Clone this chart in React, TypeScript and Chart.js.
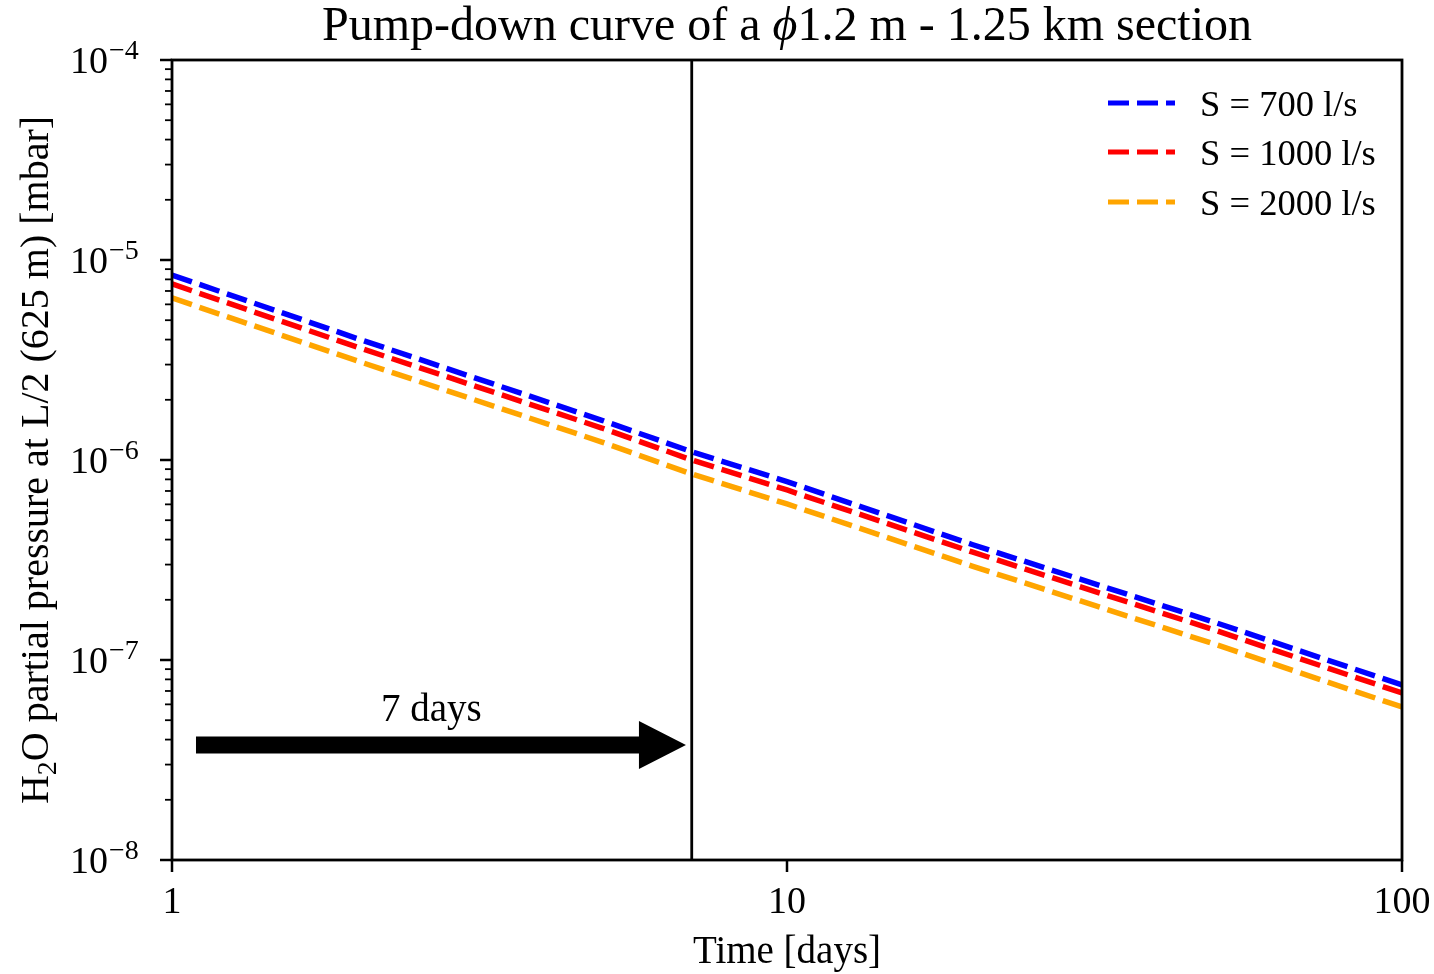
import { useEffect, useRef } from "react";
import { Chart, registerables } from "chart.js";

Chart.register(...registerables);

// ---- data ----
const days = [1, 2, 5, 7, 10, 20, 50, 100];
const p700 = [8.41e-6, 4.05e-6, 1.58e-6, 1.1e-6, 7.8e-7, 3.78e-7, 1.53e-7, 7.5e-8];
const p1000 = [7.59e-6, 3.67e-6, 1.445e-6, 1.0e-6, 7.08e-7, 3.47e-7, 1.4e-7, 6.84e-8];
const p2000 = [6.46e-6, 3.13e-6, 1.23e-6, 8.51e-7, 6.03e-7, 2.95e-7, 1.19e-7, 5.82e-8];
const seriesLabels = ["S = 700 l/s", "S = 1000 l/s", "S = 2000 l/s"];
const seriesColors = ["#0000ff", "#ff0000", "#ffa500"];
const xTickValues = [1, 10, 100];
const xTickLabels = ["1", "10", "100"];
const yDecades = [-8, -7, -6, -5, -4];
const markerDay = 7;
const arrowStartDay = 1.094;
const arrowEndDay = 6.85;
const arrowLevel = 3.76e-8;
const arrowText = "7 days";
const arrowTextDay = 2.64;
const arrowTextLevel = 4.95e-8;
const titleParts = ["Pump-down curve of a ", "ϕ", "1.2 m - 1.25 km section"];
const xTitle = "Time [days]";
const yTitleParts = ["H", "2", "O partial pressure at L/2 (625 m) [mbar]"];

const FONT = '"Liberation Serif", "DejaVu Serif", serif';

const decor = {
  id: "decor",
  afterDatasetsDraw(chart: any) {
    const { ctx, chartArea: a, scales } = chart;
    const x = scales.x;
    const y = scales.y;
    ctx.save();
    // vertical marker line
    const vx = x.getPixelForValue(markerDay);
    ctx.strokeStyle = "#000";
    ctx.lineWidth = 2.8;
    ctx.beginPath();
    ctx.moveTo(vx, a.top);
    ctx.lineTo(vx, a.bottom);
    ctx.stroke();
    // arrow
    const x0 = x.getPixelForValue(arrowStartDay);
    const tip = x.getPixelForValue(arrowEndDay);
    const yc = y.getPixelForValue(arrowLevel);
    const hs = tip - 47;
    const sw = 8.5;
    const hw = 24;
    ctx.fillStyle = "#000";
    ctx.beginPath();
    ctx.moveTo(x0, yc - sw);
    ctx.lineTo(hs, yc - sw);
    ctx.lineTo(hs, yc - hw);
    ctx.lineTo(tip, yc);
    ctx.lineTo(hs, yc + hw);
    ctx.lineTo(hs, yc + sw);
    ctx.lineTo(x0, yc + sw);
    ctx.closePath();
    ctx.fill();
    // arrow text
    ctx.font = `39px ${FONT}`;
    ctx.textAlign = "center";
    ctx.textBaseline = "alphabetic";
    ctx.fillText(arrowText, x.getPixelForValue(arrowTextDay), y.getPixelForValue(arrowTextLevel));
    ctx.restore();
  },
  afterDraw(chart: any) {
    const { ctx, chartArea: a, scales } = chart;
    const x = scales.x;
    const y = scales.y;
    ctx.save();
    ctx.fillStyle = "#000";
    ctx.strokeStyle = "#000";

    // frame
    ctx.lineWidth = 2.8;
    ctx.strokeRect(a.left, a.top, a.right - a.left, a.bottom - a.top);

    // y ticks
    ctx.lineWidth = 2.5;
    for (const k of yDecades) {
      const py = y.getPixelForValue(Math.pow(10, k));
      ctx.beginPath();
      ctx.moveTo(a.left - 12, py);
      ctx.lineTo(a.left, py);
      ctx.stroke();
    }
    ctx.lineWidth = 1.8;
    for (const k of yDecades.slice(0, -1)) {
      for (let m = 2; m <= 9; m++) {
        const py = y.getPixelForValue(m * Math.pow(10, k));
        ctx.beginPath();
        ctx.moveTo(a.left - 7, py);
        ctx.lineTo(a.left, py);
        ctx.stroke();
      }
    }
    // y tick labels
    for (const k of yDecades) {
      const py = y.getPixelForValue(Math.pow(10, k));
      ctx.font = `38px ${FONT}`;
      ctx.textAlign = "right";
      ctx.textBaseline = "alphabetic";
      ctx.fillText("10", a.left - 64, py + 13);
      ctx.font = `28px ${FONT}`;
      ctx.textAlign = "left";
      ctx.fillText(`\u2212${-k}`, a.left - 63, py - 1);
    }

    // x ticks
    ctx.lineWidth = 2.5;
    xTickValues.forEach((v, i) => {
      const px = x.getPixelForValue(v);
      ctx.beginPath();
      ctx.moveTo(px, a.bottom);
      ctx.lineTo(px, a.bottom + 12);
      ctx.stroke();
      ctx.font = `38px ${FONT}`;
      ctx.textAlign = "center";
      ctx.textBaseline = "alphabetic";
      ctx.fillText(xTickLabels[i], px, a.bottom + 53);
    });

    // x title
    ctx.font = `39px ${FONT}`;
    ctx.textAlign = "center";
    ctx.fillText(xTitle, (a.left + a.right) / 2, a.bottom + 103);

    // title (with italic phi)
    const tFont = `48px ${FONT}`;
    const tFontI = `italic 48px ${FONT}`;
    ctx.textAlign = "left";
    ctx.font = tFont;
    const w0 = ctx.measureText(titleParts[0]).width;
    const w2 = ctx.measureText(titleParts[2]).width;
    ctx.font = tFontI;
    const w1 = ctx.measureText(titleParts[1]).width;
    let tx = (a.left + a.right) / 2 - (w0 + w1 + w2) / 2;
    const ty = a.top - 20;
    ctx.font = tFont;
    ctx.fillText(titleParts[0], tx, ty);
    tx += w0;
    ctx.font = tFontI;
    ctx.fillText(titleParts[1], tx, ty);
    tx += w1;
    ctx.font = tFont;
    ctx.fillText(titleParts[2], tx, ty);

    // y title (rotated, with subscript)
    ctx.save();
    ctx.translate(48, (a.top + a.bottom) / 2);
    ctx.rotate(-Math.PI / 2);
    const mainF = `40px ${FONT}`;
    const subF = `28px ${FONT}`;
    ctx.font = mainF;
    const yw0 = ctx.measureText(yTitleParts[0]).width;
    const yw2 = ctx.measureText(yTitleParts[2]).width;
    ctx.font = subF;
    const yw1 = ctx.measureText(yTitleParts[1]).width;
    let yx = -(yw0 + yw1 + yw2) / 2;
    ctx.textAlign = "left";
    ctx.font = mainF;
    ctx.fillText(yTitleParts[0], yx, 0);
    yx += yw0;
    ctx.font = subF;
    ctx.fillText(yTitleParts[1], yx, 8);
    yx += yw1;
    ctx.font = mainF;
    ctx.fillText(yTitleParts[2], yx, 0);
    ctx.restore();

    // legend
    const rows = [103, 152, 202];
    seriesLabels.forEach((lab, i) => {
      const ry = rows[i];
      ctx.save();
      ctx.strokeStyle = seriesColors[i];
      ctx.lineWidth = 5;
      ctx.lineCap = "butt";
      ctx.setLineDash([21, 8]);
      ctx.beginPath();
      ctx.moveTo(1108, ry);
      ctx.lineTo(1175, ry);
      ctx.stroke();
      ctx.restore();
      ctx.font = `36.5px ${FONT}`;
      ctx.textAlign = "left";
      ctx.textBaseline = "alphabetic";
      ctx.fillText(lab, 1200, ry + 12.5);
    });

    ctx.restore();
  },
};

export default function App() {
  const ref = useRef<HTMLCanvasElement | null>(null);
  useEffect(() => {
    if (!ref.current) return;
    const series = [p700, p1000, p2000];
    const chart = new Chart(ref.current, {
      type: "line",
      data: {
        datasets: series.map((s, i) => ({
          label: seriesLabels[i],
          data: days.map((d, j) => ({ x: d, y: s[j] })),
          borderColor: seriesColors[i],
          backgroundColor: seriesColors[i],
          borderWidth: 5.5,
          borderDash: [21, 8],
          borderCapStyle: "butt" as const,
          pointRadius: 0,
          tension: 0,
          fill: false,
        })),
      },
      options: {
        animation: false,
        responsive: false,
        maintainAspectRatio: false,
        devicePixelRatio: 1,
        layout: { padding: { left: 172, right: 32, top: 60, bottom: 114 } },
        plugins: { legend: { display: false }, tooltip: { enabled: false }, title: { display: false } },
        scales: {
          x: { type: "logarithmic", min: 1, max: 100, display: false },
          y: { type: "logarithmic", min: 1e-8, max: 1e-4, display: false },
        },
      },
      plugins: [decor],
    });
    return () => chart.destroy();
  }, []);
  return (
    <div style={{ position: "absolute", left: 0, top: 0, width: 1434, height: 974, background: "#fff" }}>
      <canvas ref={ref} width={1434} height={974} style={{ width: 1434, height: 974 }} />
    </div>
  );
}
